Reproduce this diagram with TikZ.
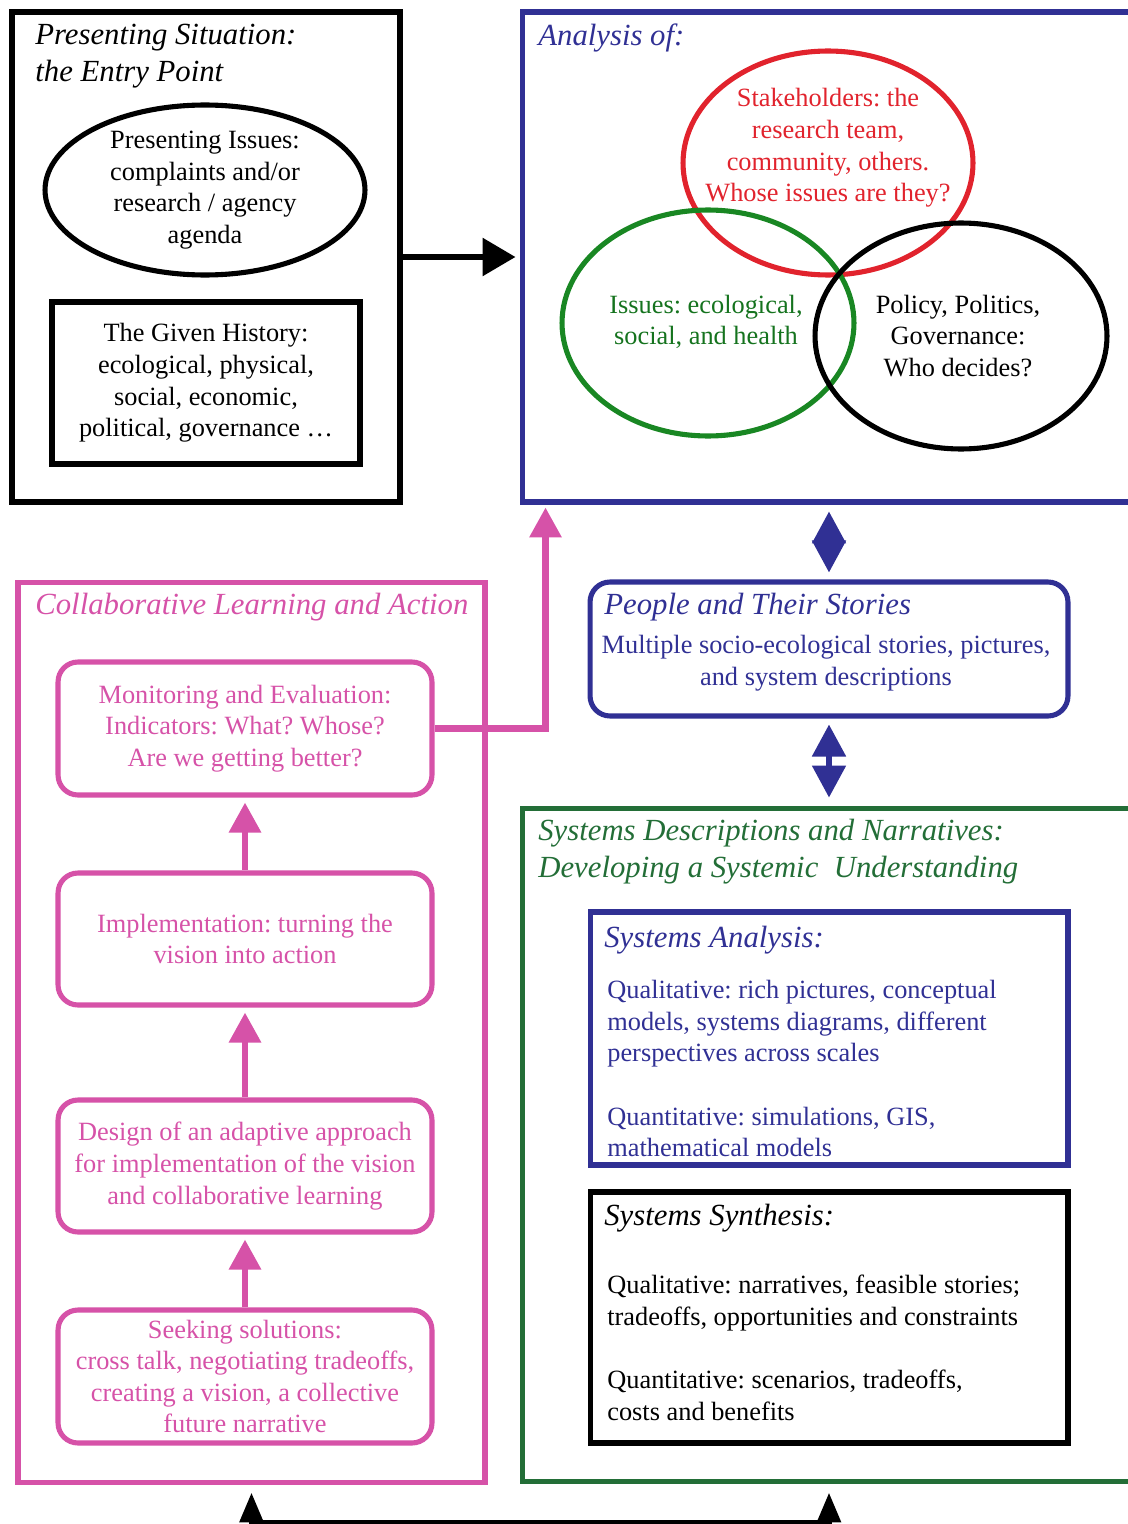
\documentclass[tikz,border=0pt]{standalone}
\usepackage{fontspec}
\setmainfont{Liberation Serif}
\frenchspacing
\usetikzlibrary{
  arrows.meta,
  calc,
  positioning,
  shapes.geometric
}
\definecolor{navyline}{RGB}{48, 48, 148}
\definecolor{boxgreen}{RGB}{35, 110, 55}
\definecolor{venngreen}{RGB}{25, 135, 35}
\definecolor{pinkline}{RGB}{214, 82, 168}
\definecolor{redline}{RGB}{225, 35, 45}
\tikzset{
  % Frames
  frame/.style      = {draw, line width=2.9pt, inner sep=0pt},
  roundframe/.style = {frame, rounded corners=0.4cm},
  venn/.style       = {ellipse, draw, line width=2.9pt, inner sep=0pt},
  % Texts
  bodytxt/.style    = {font=\fontsize{15}{18}\selectfont, align=center, inner sep=0pt},
  lefttxt/.style    = {font=\fontsize{15}{18}\selectfont, align=left, inner sep=0pt, anchor=north west},
  headtxt/.style    = {font=\fontsize{17.5}{21}\selectfont\itshape, align=left, inner sep=0pt, anchor=north west},
  % Arrows
  blkarrow/.style   = {-{Triangle[length=0.66cm, width=0.74cm]}, line width=3.4pt},
  dblarrow/.style   = {{Triangle[length=0.64cm, width=0.66cm]}-{Triangle[length=0.64cm, width=0.66cm]},
                       line width=3pt, navyline},
  pinkarrow/.style  = {-{Triangle[length=0.6cm, width=0.62cm]}, line width=3.6pt, pinkline},
  botarrow/.style   = {{Triangle[length=0.6cm, width=0.46cm]}-{Triangle[length=0.6cm, width=0.46cm]},
                       line width=3.4pt},
}
\begin{document}
\begin{tikzpicture}[x=0.02cm, y=-0.02cm]
  \useasboundingbox (0,0) rectangle (1127,1524);
  % Presenting situation
  \node[frame, minimum width=7.76cm, minimum height=9.8cm] (sit) at (206,257) {};
  \node[headtxt] (sittitle) at (35,24) {Presenting Situation:\\the Entry Point};
  \node[venn, minimum width=6.4cm, minimum height=3.4cm, bodytxt] (issues) at (205,190)
    {Presenting Issues:\\complaints and/or\\research / agency\\agenda};
  \node[frame, minimum width=6.16cm, minimum height=3.24cm, bodytxt] (history) at (206,383)
    {The Given History:\\ecological, physical,\\social, economic,\\political, governance \dots};
  % Analysis of
  \node[frame, navyline, minimum width=12.36cm, minimum height=9.8cm] (ana) at (831,257) {};
  \node[headtxt, navyline] (anatitle) at (538,24) {Analysis of:};
  \node[venn, redline, minimum width=5.8cm, minimum height=4.48cm] (stake) at (828,163) {};
  \node[venn, venngreen, minimum width=5.84cm, minimum height=4.52cm] (eco) at (708,323) {};
  \node[venn, minimum width=5.84cm, minimum height=4.52cm] (policy) at (961,336) {};
  \node[bodytxt, redline] (staketxt) at (828,148)
    {Stakeholders: the\\research team,\\community, others.\\Whose issues are they?};
  \node[bodytxt, venngreen!85!black] (ecotxt) at (706,322) {Issues: ecological,\\social, and health};
  \node[bodytxt] (policytxt) at (958,336) {Policy, Politics,\\Governance:\\Who decides?};
  % People and their stories
  \node[roundframe, navyline, minimum width=9.56cm, minimum height=2.68cm] (people) at (829,649) {};
  \node[headtxt, navyline] (peopletitle) at (604,593) {People and Their Stories};
  \node[bodytxt, navyline] (peopletxt) at (826,663)
    {Multiple socio-ecological stories, pictures,\\and system descriptions};
  % Systems descriptions
  \node[frame, boxgreen, minimum width=12.36cm, minimum height=13.48cm] (sys) at (831,1145) {};
  \node[headtxt, boxgreen] (systitle) at (538,819)
    {Systems Descriptions and Narratives:\\Developing a Systemic\ \ Understanding};
  \node[frame, navyline, minimum width=9.56cm, minimum height=5.06cm] (sa) at (829,1038.5) {};
  \node[headtxt, navyline] (satitle) at (604,926) {Systems Analysis:};
  \node[lefttxt, navyline] (satxt) at (607,980)
    {Qualitative: rich pictures, conceptual\\models, systems diagrams, different\\perspectives across scales\\[18pt]
     Quantitative: simulations, GIS,\\mathematical models};
  \node[frame, minimum width=9.56cm, minimum height=5.02cm] (ss) at (829,1317.5) {};
  \node[headtxt] (sstitle) at (604,1204) {Systems Synthesis:};
  \node[lefttxt] (sstxt) at (607,1275)
    {Qualitative: narratives, feasible stories;\\tradeoffs, opportunities and constraints\\[18pt]
     Quantitative: scenarios, tradeoffs,\\costs and benefits};
  % Collaborative learning and action
  \node[frame, pinkline, minimum width=9.34cm, minimum height=18.02cm] (cla) at (251.5,1032.5) {};
  \node[headtxt, pinkline] (clatitle) at (35,593) {Collaborative Learning and Action};
  \node[roundframe, pinkline, minimum width=7.48cm, minimum height=2.66cm, bodytxt] (mon) at (245,728.5)
    {Monitoring and Evaluation:\\Indicators: What? Whose?\\Are we getting better?};
  \node[roundframe, pinkline, minimum width=7.48cm, minimum height=2.64cm, bodytxt] (imp) at (245,939)
    {Implementation: turning the\\vision into action};
  \node[roundframe, pinkline, minimum width=7.48cm, minimum height=2.64cm, bodytxt] (des) at (245,1166)
    {Design of an adaptive approach\\for implementation of the vision\\and collaborative learning};
  \node[roundframe, pinkline, minimum width=7.48cm, minimum height=2.66cm, bodytxt] (seek) at (245,1376.5)
    {Seeking solutions:\\cross talk, negotiating tradeoffs,\\creating a vision, a collective\\future narrative};
  % Connectors
  \draw[blkarrow, shorten >=0.08cm] (sit.east) -- (ana.west);
  \draw[dblarrow, shorten <=0.14cm, shorten >=0.14cm] (people.north |- ana.south) -- (people.north);
  \draw[dblarrow, shorten <=0.12cm, shorten >=0.16cm] (people.south) -- (people.south |- sys.north);
  \draw[pinkarrow, shorten >=0.1cm] (seek.north) -- (des.south);
  \draw[pinkarrow, shorten >=0.1cm] (des.north) -- (imp.south);
  \draw[pinkarrow, shorten >=0.1cm] (imp.north) -- (mon.south);
  \draw[pinkarrow, shorten >=0.06cm] (mon.east) -| ([xshift=0.52cm]ana.south west);
  \coordinate (botl) at ([yshift=-0.14cm]cla.south);
  \coordinate (botr) at ([yshift=-0.16cm]people.south |- sys.south);
  \draw[botarrow] (botl) -- ++(0,31) -| (botr);
\end{tikzpicture}
\end{document}
